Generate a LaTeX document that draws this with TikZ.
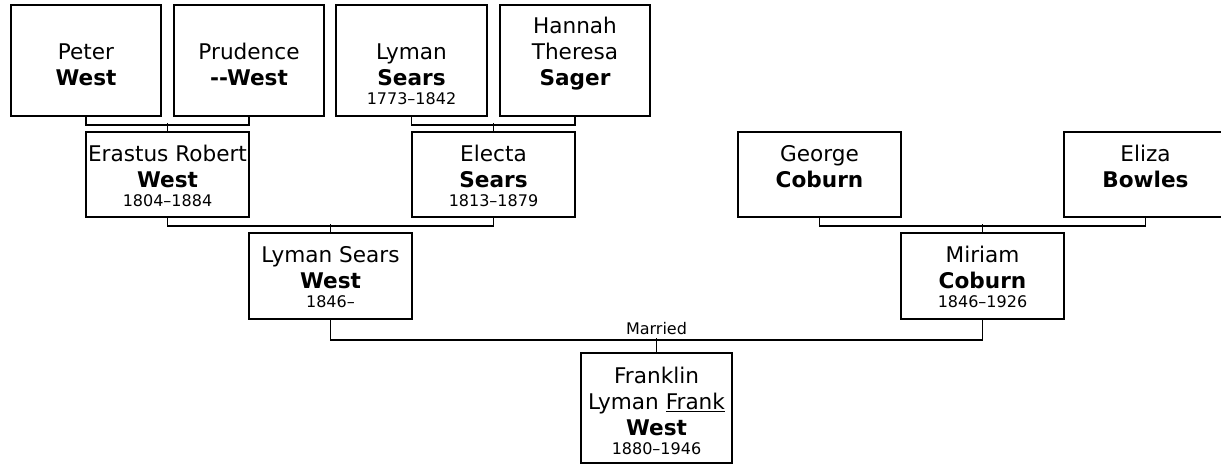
\documentclass[tikz,border=0pt]{standalone}
\usepackage{fontspec}
\setmainfont{DejaVu Sans}
\newcommand{\who}[2]{\begin{tabular}[b]{@{}c@{}}#1\\\textbf{#2}\end{tabular}}
\tikzset{
  person/.style={draw, line width=1.5pt, inner sep=0pt},
  names/.style={anchor=base, inner sep=0pt, font=\fontsize{21.6}{25.7}\selectfont},
  yr/.style={inner sep=0pt, font=\fontsize{16}{19}\selectfont},
  link/.style={line width=1.5pt},
}
\begin{document}
\begin{tikzpicture}[x=1pt,y=-1pt]
  \useasboundingbox (0,0) rectangle (1221,464);
  % boxes, row by row
  \node[person, minimum width=150pt, minimum height=111pt] (peter) at (86,60.5) {};
  \node[person, minimum width=150pt, minimum height=111pt] (prudence) at (249,60.5) {};
  \node[person, minimum width=151pt, minimum height=111pt] (lymanS) at (411.5,60.5) {};
  \node[person, minimum width=150pt, minimum height=111pt] (hannah) at (575,60.5) {};
  \node[person, minimum width=163pt, minimum height=85pt] (erastus) at (167.5,174.5) {};
  \node[person, minimum width=163pt, minimum height=85pt] (electa) at (493.5,174.5) {};
  \node[person, minimum width=163pt, minimum height=85pt] (george) at (819.5,174.5) {};
  \node[person, minimum width=163pt, minimum height=85pt] (eliza) at (1145.5,174.5) {};
  \node[person, minimum width=163pt, minimum height=86pt] (lymanW) at (330.5,276) {};
  \node[person, minimum width=163pt, minimum height=86pt] (miriam) at (982.5,276) {};
  \node[person, minimum width=151pt, minimum height=110pt] (franklin) at (656.5,408) {};
  % names
  \node[names] (peterT) at (86,85) {\who{Peter}{West}};
  \node[names] (prudenceT) at (249,85) {\who{Prudence}{-{}-West}};
  \node[names, label={[yr]below:1773--1842}] (lymanST) at (411.5,85) {\who{Lyman}{Sears}};
  \node[names] (hannahT) at (575,85) {\who{Hannah\\Theresa}{Sager}};
  \node[names, label={[yr]below:1804--1884}] (erastusT) at (167.5,187) {\who{Erastus Robert}{West}};
  \node[names, label={[yr]below:1813--1879}] (electaT) at (493.5,187) {\who{Electa}{Sears}};
  \node[names] (georgeT) at (819.5,187) {\who{George}{Coburn}};
  \node[names] (elizaT) at (1145.5,187) {\who{Eliza}{Bowles}};
  \node[names, label={[yr]below:1846--}] (lymanWT) at (330.5,288) {\who{Lyman Sears}{West}};
  \node[names, label={[yr]below:1846--1926}] (miriamT) at (982.5,288) {\who{Miriam}{Coburn}};
  \node[names, label={[yr]below:1880--1946}] (franklinT) at (656.5,435) {\who{Franklin\\Lyman \underline{Frank}}{West}};
  % connectors
  \draw[link] (peter.south) -- ++(0,8) -| (prudence.south);
  \draw[link] (erastus.north) -- ++(0,-8);
  \draw[link] (lymanS.south) -- ++(0,8) -| (hannah.south);
  \draw[link] (electa.north) -- ++(0,-8);
  \draw[link] (george.south) -- ++(0,8) -| (eliza.south);
  \draw[link] (miriam.north) -- ++(0,-8);
  \draw[link] (erastus.south) -- ++(0,8) -| (electa.south);
  \draw[link] (lymanW.north) -- ++(0,-8);
  \draw[link] (lymanW.south) -- ++(0,20) -| (miriam.south);
  \draw[link] (franklin.north) -- ++(0,-14);
  \node[yr, anchor=base] (married) at ([yshift=18pt]franklin.north) {Married};
\end{tikzpicture}
\end{document}
